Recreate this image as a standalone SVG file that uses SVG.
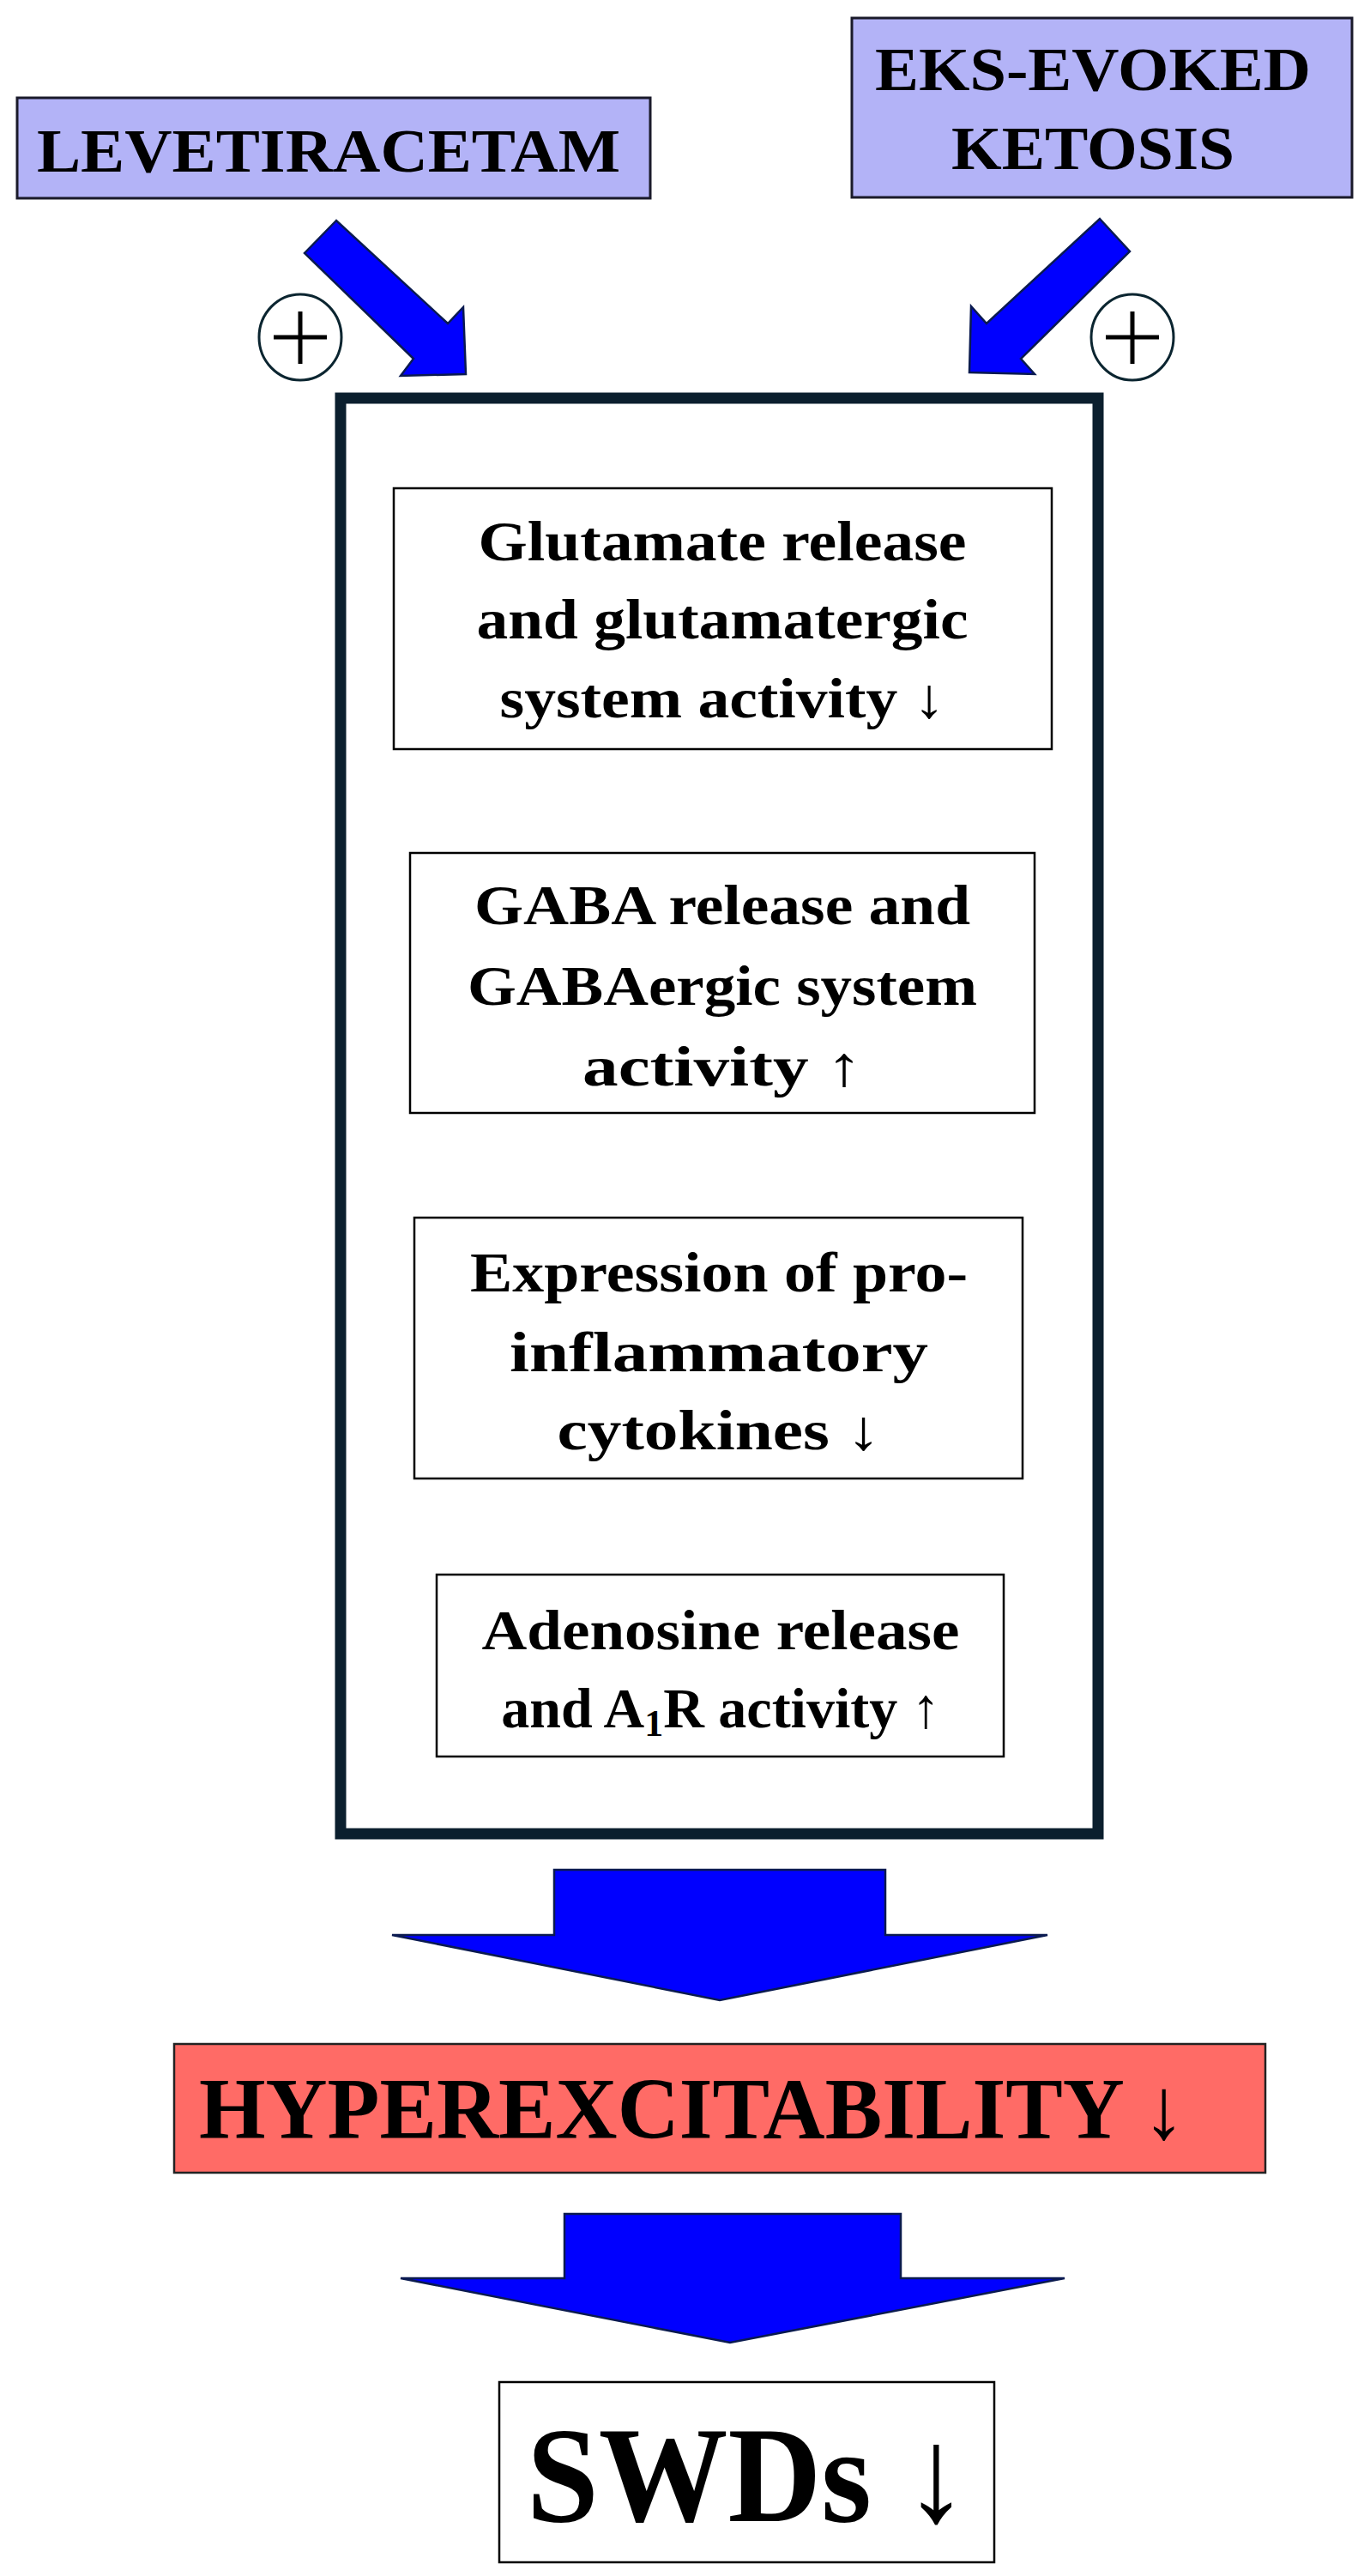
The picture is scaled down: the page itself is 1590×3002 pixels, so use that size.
<svg xmlns="http://www.w3.org/2000/svg" width="1590" height="3002" viewBox="0 0 1590 3002">
<style>
.t{font-family:"Liberation Serif","Times New Roman",serif;font-weight:bold;fill:#000;text-anchor:middle}
.i{font-size:66px}
.box{fill:#fff;stroke:#000;stroke-width:2.5}
.drug{fill:#b3b3f7;stroke:#1a1a2a;stroke-width:3}
.arr{fill:#0000ff;stroke:#0a1a50;stroke-width:2.5;stroke-linejoin:miter}
.plus{fill:#fff;stroke:#0b2530;stroke-width:3}
</style>
<rect width="1590" height="3002" fill="#fff"/>
<g id="levetiracetam">
<rect class="drug" x="20" y="114" width="738" height="117"/>
<text class="t" x="383" y="200" font-size="72" textLength="680" lengthAdjust="spacingAndGlyphs">LEVETIRACETAM</text>
</g>
<g id="eks">
<rect class="drug" x="993" y="21" width="583" height="209"/>
<text class="t" x="1274" y="105" font-size="72" textLength="508" lengthAdjust="spacingAndGlyphs">EKS-EVOKED</text>
<text class="t" x="1274" y="197" font-size="72" textLength="330" lengthAdjust="spacingAndGlyphs">KETOSIS</text>
</g>
<g id="plus-left">
<ellipse class="plus" cx="350" cy="393" rx="48" ry="50"/>
<path d="M319 393H381M350 363V424" stroke="#000" stroke-width="5"/>
</g>
<g id="plus-right">
<ellipse class="plus" cx="1320" cy="393" rx="48" ry="50"/>
<path d="M1289 393H1351M1320 363V424" stroke="#000" stroke-width="5"/>
</g>
<g id="mechanisms">
<rect x="397" y="464" width="883" height="1673" fill="#fff" stroke="#0b1f2e" stroke-width="13"/>
<g id="glutamate">
<rect class="box" x="459" y="569" width="767" height="304"/>
<text class="t i"><tspan x="842" y="653" textLength="569" lengthAdjust="spacingAndGlyphs">Glutamate release</tspan><tspan x="842" y="744" textLength="573" lengthAdjust="spacingAndGlyphs">and glutamatergic</tspan><tspan x="842" y="836" textLength="519" lengthAdjust="spacingAndGlyphs">system activity ↓</tspan></text>
</g>
<g id="gaba">
<rect class="box" x="478" y="994" width="728" height="303"/>
<text class="t i"><tspan x="842" y="1077" textLength="578" lengthAdjust="spacingAndGlyphs">GABA release and</tspan><tspan x="842" y="1171" textLength="594" lengthAdjust="spacingAndGlyphs">GABAergic system</tspan><tspan x="842" y="1265" textLength="326" lengthAdjust="spacingAndGlyphs">activity ↑</tspan></text>
</g>
<g id="cytokines">
<rect class="box" x="483" y="1419" width="709" height="304"/>
<text class="t i"><tspan x="838" y="1505" textLength="580" lengthAdjust="spacingAndGlyphs">Expression of pro-</tspan><tspan x="838" y="1598" textLength="488" lengthAdjust="spacingAndGlyphs">inflammatory</tspan><tspan x="838" y="1689" textLength="377" lengthAdjust="spacingAndGlyphs">cytokines ↓</tspan></text>
</g>
<g id="adenosine">
<rect class="box" x="509" y="1835" width="661" height="212"/>
<text class="t i"><tspan x="840" y="1922" textLength="557" lengthAdjust="spacingAndGlyphs">Adenosine release</tspan></text>
<text class="t i" x="840" y="2013">and A<tspan font-size="44" dy="10">1</tspan><tspan dy="-10">R activity ↑</tspan></text>
</g>
</g>
<g id="hyperexcitability">
<rect x="203" y="2382" width="1272" height="150" fill="#ff6b66" stroke="#222" stroke-width="2.5"/>
<text class="t" x="232" y="2492" font-size="102" style="text-anchor:start" textLength="1150" lengthAdjust="spacingAndGlyphs">HYPEREXCITABILITY ↓</text>
</g>
<g id="swds">
<rect class="box" x="582" y="2776" width="577" height="210"/>
<text class="t" x="614" y="2938" font-size="158" style="text-anchor:start" textLength="515" lengthAdjust="spacingAndGlyphs">SWDs ↓</text>
</g>
<g id="connectors">
<polygon class="arr" points="392,257 355,295 482,418 467,438 543,436 540,358 522,377"/>
<polygon class="arr" points="1282,255 1317,293 1190,418 1206,436 1130,434 1132,357 1150,377"/>
<polygon class="arr" points="646,2179 1032,2179 1032,2255 1221,2255 839,2331 457,2255 646,2255"/>
<polygon class="arr" points="658,2580 1050,2580 1050,2655 1241,2655 851,2730 467,2655 658,2655"/>
</g>
</svg>
